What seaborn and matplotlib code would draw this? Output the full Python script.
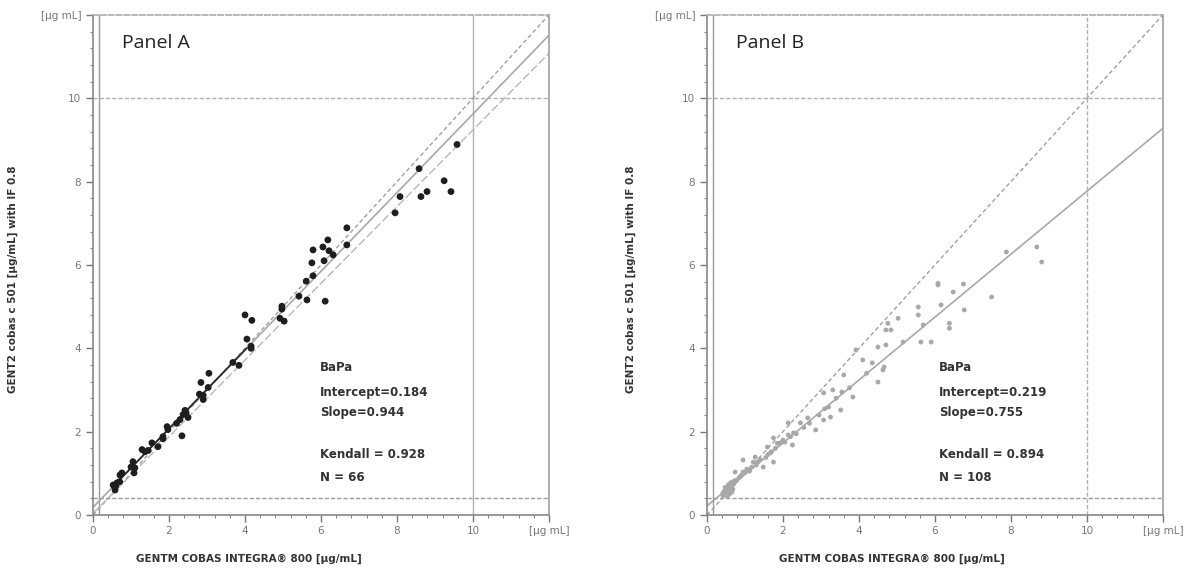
import numpy as np
import pandas as pd
import matplotlib.pyplot as plt
import matplotlib.ticker as mticker
import seaborn as sns

# Panel A: GENTM (x) vs GENT2 (y), 66 samples
panel_a_x = [9.58, 8.58, 9.24, 9.42, 8.79, 8.63, 8.08, 7.95,
             6.68, 6.68, 6.18, 6.05, 5.79, 6.21, 6.32, 6.08, 5.76, 5.79, 5.61, 5.42, 5.63, 6.11,
             4.97, 4.97, 4.92, 5.03, 4.00, 4.18, 4.05, 4.16,
             4.16, 3.84, 3.68, 3.05, 2.84, 3.03, 2.90, 2.90, 2.50, 2.37, 2.42, 2.29, 2.34, 1.95,
             1.97, 1.84, 1.84, 1.71, 1.55, 1.37, 1.29, 1.05, 1.10, 1.08, 0.76, 0.71, 0.63, 0.53,
             0.58, 2.20, 2.45, 0.60, 1.00, 2.80, 1.45, 0.70]
panel_a_y = [8.89, 8.31, 8.02, 7.76, 7.76, 7.64, 7.64, 7.25,
             6.89, 6.48, 6.60, 6.43, 6.36, 6.34, 6.24, 6.10, 6.05, 5.74, 5.61, 5.25, 5.16, 5.13,
             5.01, 4.94, 4.72, 4.65, 4.80, 4.67, 4.22, 4.05,
             4.00, 3.59, 3.66, 3.40, 3.18, 3.06, 2.77, 2.87, 2.34, 2.41, 2.51, 2.29, 1.90, 2.12,
             2.05, 1.88, 1.83, 1.64, 1.73, 1.52, 1.57, 1.28, 1.13, 1.01, 1.01, 0.96, 0.77, 0.72,
             0.60, 2.20, 2.45, 0.70, 1.15, 2.90, 1.55, 0.80]

# Panel B: 108 samples
panel_b_x = [6.08, 6.75, 7.88, 8.68, 8.81,
             6.08, 6.48, 6.16, 5.56, 5.56, 6.38, 6.38, 6.77, 7.49, 5.69, 5.16, 5.63, 5.90, 4.76, 4.84, 4.66,
             5.03, 4.71, 4.71, 4.50, 4.63, 4.50, 3.92, 4.10, 3.60, 3.84, 3.52, 3.31, 3.07, 3.20, 3.07,
             3.25, 2.86, 2.65, 2.46, 2.28, 2.14, 2.25, 1.93, 1.75, 1.67, 1.59, 1.27, 1.22, 0.95, 0.95,
             0.74, 0.79, 0.53, 0.48, 0.61, 0.56, 0.42, 1.48, 1.75, 2.14,
             0.45, 0.50, 0.52, 0.55, 0.58, 0.60, 0.62, 0.48, 0.65, 0.57, 0.42, 0.53, 0.68, 0.63, 0.70,
             0.47, 0.59, 0.72, 0.55, 0.66,
             0.85, 0.90, 1.00, 1.05, 1.12, 1.18, 1.30, 1.35, 1.40, 1.55, 1.60, 1.70, 1.80, 1.85, 2.00,
             2.05, 2.20, 2.35, 2.55, 2.70, 2.95, 3.10, 3.40, 3.55, 3.75, 4.20, 4.35]
panel_b_y = [5.56, 5.54, 6.31, 6.43, 6.07,
             5.52, 5.35, 5.04, 4.99, 4.80, 4.60, 4.48, 4.92, 5.23, 4.56, 4.15, 4.15, 4.15, 4.60, 4.44, 3.55,
             4.72, 4.44, 4.08, 4.03, 3.48, 3.19, 3.96, 3.72, 3.36, 2.83, 2.52, 3.00, 2.93, 2.59, 2.28,
             2.35, 2.04, 2.33, 2.21, 1.97, 1.92, 1.68, 1.73, 1.85, 1.49, 1.63, 1.39, 1.27, 1.32, 1.03,
             1.03, 0.84, 0.67, 0.60, 0.72, 0.55, 0.53, 1.15, 1.27, 2.21,
             0.50, 0.58, 0.52, 0.62, 0.57, 0.68, 0.60, 0.66, 0.70, 0.73, 0.47, 0.45, 0.62, 0.78, 0.74,
             0.58, 0.50, 0.82, 0.68, 0.55,
             0.90, 0.95, 1.02, 1.10, 1.05, 1.15, 1.20, 1.28, 1.33, 1.38, 1.45, 1.52, 1.60, 1.72, 1.80,
             1.75, 1.88, 1.95, 2.10, 2.20, 2.40, 2.55, 2.80, 2.95, 3.05, 3.40, 3.65]

panels = [
    dict(name="Panel A", x=panel_a_x, y=panel_a_y, intercept=0.184, slope=0.944,
         kendall="0.928", n="66", color="#1e1e1e", size=24, pos=[0.0785, 0.0949, 0.3848, 0.879],
         xlab_x=0.21, ylab_x=0.011),
    dict(name="Panel B", x=panel_b_x, y=panel_b_y, intercept=0.219, slope=0.755,
         kendall="0.894", n="108", color="#a8a8a8", size=12, pos=[0.5966, 0.0949, 0.3848, 0.879],
         xlab_x=0.753, ylab_x=0.532),
]

sns.set_theme(style="white")
plt.rcParams['font.family'] = ['DejaVu Sans']

fig = plt.figure(figsize=(11.85, 5.69), dpi=100)
fig.patch.set_facecolor("white")

xs = np.array([0, 12])
for p in panels:
    ax = fig.add_axes(p["pos"])
    df = pd.DataFrame({"x": p["x"], "y": p["y"]})

    # reference lines
    ax.axhline(10, color="#b0b0b0", lw=1, ls=(0, (3, 1.5)))
    ax.axvline(10, color="#b0b0b0", lw=1, ls="-" if p["name"] == "Panel A" else (0, (3, 1.5)))
    ax.axhline(0.4, color="#9a9a9a", lw=1, ls=(0, (3, 1.5)))
    ax.axvline(0.16, color="#9a9a9a", lw=1, ls="-")

    # identity line
    ax.plot(xs, xs, color="#a0a0a0", lw=1, ls=(0, (3, 2)))
    # regression line
    ax.plot(xs, p["intercept"] + p["slope"] * xs, color="#a8a8a8", lw=1.2)
    if p["name"] == "Panel A":
        ax.plot(xs, 0.04 + 0.92 * xs, color="#b8b8b8", lw=1, ls=(0, (6, 2)))
        seg = np.array([0.5, 4.05])
        ax.plot(seg, p["intercept"] + p["slope"] * seg, color="#2a2a2a", lw=1.3)

    sns.scatterplot(data=df, x="x", y="y", ax=ax, color=p["color"], s=p["size"],
                    edgecolor="none", legend=False, zorder=3)

    ax.set_xlim(0, 12)
    ax.set_ylim(0, 12)
    ax.set_xticks([0, 2, 4, 6, 8, 10, 12])
    ax.set_xticklabels(["0", "2", "4", "6", "8", "10", "[µg mL]"])
    ax.set_yticks([0, 2, 4, 6, 8, 10, 12])
    ax.set_yticklabels(["0", "2", "4", "6", "8", "10", "[µg mL]"])
    ax.xaxis.set_minor_locator(mticker.MultipleLocator(0.4))
    ax.yaxis.set_minor_locator(mticker.MultipleLocator(0.4))
    ax.tick_params(axis="both", which="both", bottom=True, left=True, direction="out")
    ax.tick_params(axis="both", which="major", length=5, width=1, colors="#777777",
                   labelsize=7.5, labelcolor="#777777")
    ax.tick_params(axis="both", which="minor", length=2.5, width=0.8, colors="#888888")
    ax.tick_params(axis="x", which="major", pad=3)
    ax.set_xlabel("")
    ax.set_ylabel("")

    for side in ["left", "bottom"]:
        ax.spines[side].set_color("#888888")
        ax.spines[side].set_linewidth(1.2)
    ax.spines["top"].set_color("#b0b0b0")
    ax.spines["top"].set_linestyle((0, (3, 1.5)))
    ax.spines["right"].set_color("#a0a0a0")
    ax.spines["right"].set_linewidth(1.2)

    ax.text(0.76, 11.33, p["name"], fontsize=14, color="#222222", va="center", ha="left",
            family=["Open Sans", "DejaVu Sans"])

    stats = [("BaPa", 3.54), ("Intercept=" + f"{p['intercept']:.3f}", 2.94),
             ("Slope=" + f"{p['slope']:.3f}", 2.46), ("Kendall = " + p["kendall"], 1.45),
             ("N = " + p["n"], 0.89)]
    tx = 5.97 if p["name"] == "Panel A" else 6.11
    for s, yy in stats:
        ax.text(tx, yy, s, fontsize=8.5, fontweight="bold", color="#333333", va="center", ha="left")

    fig.text(p["xlab_x"], 0.018, "GENTM COBAS INTEGRA® 800 [µg/mL]", fontsize=7.5,
             fontweight="bold", color="#333333", ha="center", va="center")
    fig.text(p["ylab_x"], 0.51, "GENT2 cobas c 501 [µg/mL] with IF 0.8", fontsize=7.5,
             fontweight="bold", color="#333333", ha="center", va="center", rotation=90)

plt.savefig("out.png", dpi=100)
